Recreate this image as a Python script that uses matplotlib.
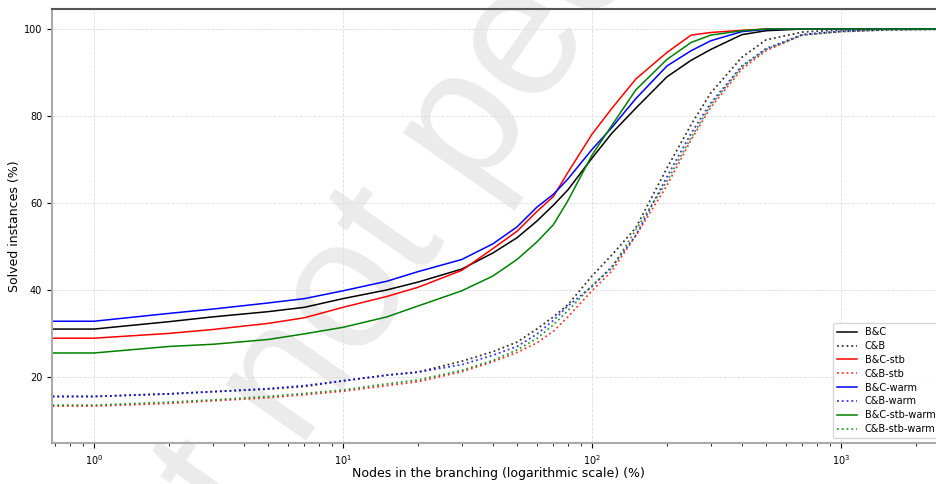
import matplotlib
matplotlib.use("Agg")
import matplotlib.pyplot as plt

# nodes in the branching (%)
nodes = [0.5, 1, 2, 3, 5, 7, 10, 15, 20, 30, 40, 50, 60, 70, 80, 100,
         120, 150, 200, 250, 300, 400, 500, 700, 1000, 1500, 3000]

# solved instances (%)
bc = [31.0, 31.0, 32.7, 33.8, 35.0, 36.0, 38.0, 40.0, 41.8, 44.8, 48.5, 52.0, 55.8, 59.5, 63.0, 70.3,
      76.0, 81.8, 89.0, 92.8, 95.3, 98.7, 99.6, 100, 100, 100, 100]
cb = [15.5, 15.5, 16.1, 16.6, 17.2, 17.8, 19.1, 20.4, 21.1, 23.6, 25.8, 28.0, 31.0, 33.8, 36.6, 43.2,
      48.0, 54.3, 68.0, 78.0, 85.3, 93.5, 97.5, 99.3, 99.8, 100, 100]
bc_stb = [28.9, 28.9, 30.0, 30.9, 32.3, 33.6, 36.0, 38.5, 40.6, 44.5, 49.5, 53.5, 58.0, 61.5, 67.0, 75.8,
          81.7, 88.5, 94.6, 98.6, 99.2, 99.7, 100, 100, 100, 100, 100]
cb_stb = [13.3, 13.3, 13.9, 14.5, 15.2, 15.9, 16.7, 18.0, 18.9, 21.2, 23.5, 25.6, 27.8, 30.5, 33.8, 39.8,
          44.3, 52.5, 64.0, 74.5, 82.0, 90.8, 95.0, 98.7, 99.4, 99.8, 100]
bc_warm = [32.8, 32.8, 34.6, 35.6, 37.0, 38.0, 39.8, 42.0, 44.2, 47.0, 50.6, 54.5, 59.0, 62.0, 65.5, 72.3,
           77.3, 84.0, 91.5, 95.0, 97.3, 99.4, 99.9, 100, 100, 100, 100]
cb_warm = [15.5, 15.5, 16.1, 16.6, 17.3, 18.0, 19.1, 20.4, 21.1, 22.8, 25.0, 27.0, 29.8, 33.0, 36.3, 40.8,
           45.3, 52.5, 66.0, 76.0, 83.0, 91.5, 95.5, 98.7, 99.5, 99.8, 100]
bc_stb_warm = [25.5, 25.5, 27.0, 27.5, 28.6, 29.9, 31.4, 33.8, 36.3, 39.8, 43.2, 47.0, 51.0, 55.0, 60.5, 71.0,
               77.8, 86.0, 93.0, 96.9, 98.6, 99.6, 100, 100, 100, 100, 100]
cb_stb_warm = [13.5, 13.5, 14.2, 14.7, 15.5, 16.2, 17.0, 18.4, 19.3, 21.5, 23.8, 26.2, 28.8, 32.0, 35.2, 41.0,
               45.0, 53.8, 65.0, 75.0, 82.5, 91.3, 95.3, 98.6, 99.4, 99.8, 100]

series = [
    ("B&C", bc, "black", "-"),
    ("C&B", cb, "black", ":"),
    ("B&C-stb", bc_stb, "red", "-"),
    ("C&B-stb", cb_stb, "red", ":"),
    ("B&C-warm", bc_warm, "blue", "-"),
    ("C&B-warm", cb_warm, "blue", ":"),
    ("B&C-stb-warm", bc_stb_warm, "green", "-"),
    ("C&B-stb-warm", cb_stb_warm, "green", ":"),
]

fig = plt.figure(figsize=(9.36, 4.84), dpi=100)
# axes runs a little past the right edge of the picture (legend is clipped there)
ax = fig.add_axes([52 / 936, 41 / 484, 892 / 936, 434 / 484])
ax.patch.set_alpha(0)

# preprint watermark behind everything
fig.text(481 / 936, 1 - 108 / 484, "Preprint not peer reviewed", fontsize=133,
         family="Liberation Sans", color="#ebebeb", rotation=55,
         rotation_mode="anchor", ha="center", va="center", zorder=-1)

for label, vals, col, ls in series:
    if ls == ":":
        ax.plot(nodes, vals, ls, color=col, lw=1.3, alpha=0.8, label=label)
    else:
        ax.plot(nodes, vals, ls, color=col, lw=1.1, label=label)

ax.set_xscale("log")
ax.set_xlim(0.678, 2593)
ax.set_ylim(4.8, 104.6)
ax.set_yticks([20, 40, 60, 80, 100])
ax.tick_params(labelsize=7)
ax.grid(True, which="major", ls="--", lw=0.6, color="#dddddd")

for side in ["left", "bottom"]:
    ax.spines[side].set_color("#aaaaaa")
    ax.spines[side].set_linewidth(1.5)
ax.spines["top"].set_color("#555555")
ax.spines["top"].set_linewidth(1.5)

ax.set_xlabel("Nodes in the branching (logarithmic scale) (%)", fontsize=9, labelpad=0)
ax.set_ylabel("Solved instances (%)", fontsize=9, labelpad=2)
ax.legend(loc="lower right", fontsize=7, labelspacing=0.4)

fig.savefig("out.png", dpi=100)
